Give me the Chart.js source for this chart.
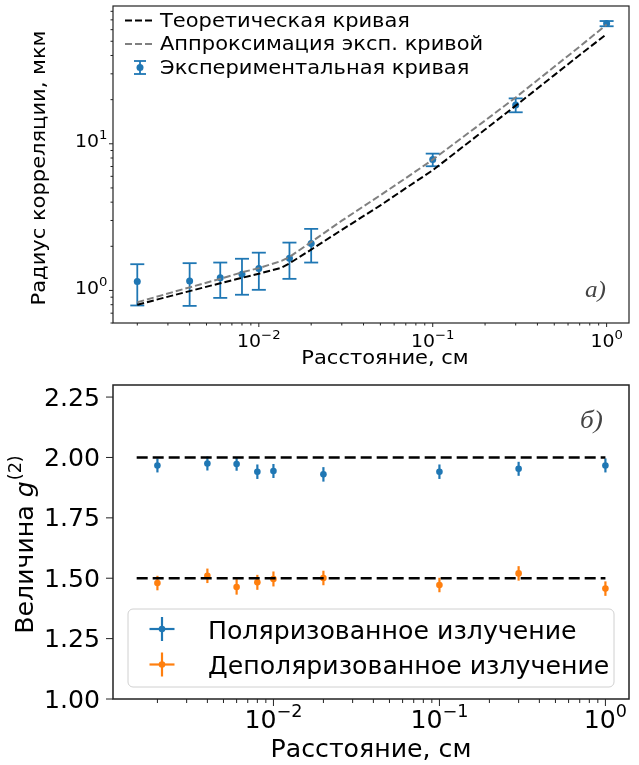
<!DOCTYPE html>
<html>
<head>
<meta charset="utf-8">
<title>Радиус корреляции и g(2)</title>
<script src="https://cdn.jsdelivr.net/npm/chart.js@4.4.1/dist/chart.umd.min.js"></script>
<style>
  body { margin: 0; background: #fff; }
  .panel { position: absolute; left: 0; }
  #top-panel { top: 0; }
  #bottom-panel { top: 370px; }
</style>
</head>
<body>
<canvas id="top-panel" class="panel" width="639" height="370"></canvas>
<canvas id="bottom-panel" class="panel" width="639" height="395"></canvas>
<script>
// --- top panel: correlation radius vs distance (log-log) ---
const expDist = [0.002, 0.004, 0.006, 0.008, 0.01, 0.015, 0.02, 0.1, 0.3, 1.0];
const expRadius = [1.15, 1.16, 1.22, 1.29, 1.41, 1.66, 2.09, 7.8, 18.4, 66];
const expRadiusErr = [0.36, 0.375, 0.33, 0.355, 0.40, 0.46, 0.54, 0.77, 2.0, 2.7];

const curveDist = [0.002, 0.004, 0.006, 0.008, 0.01, 0.0135, 0.015, 0.02, 0.03, 0.05, 0.07, 0.1, 0.2, 0.3, 0.5, 0.7, 1.0];
const theoryRadius = [0.80, 0.99, 1.12, 1.22, 1.30, 1.43, 1.53, 1.90, 2.59, 3.80, 4.98, 6.6, 12.5, 18.2, 29.4, 40.3, 56];
const fitRadius = [0.83, 1.05, 1.20, 1.33, 1.42, 1.59, 1.69, 2.14, 2.99, 4.46, 5.83, 7.8, 14.4, 20.7, 33.5, 46, 65];

// --- bottom panel: g(2) vs distance ---
const g2Dist = [0.002, 0.004, 0.006, 0.008, 0.01, 0.02, 0.1, 0.3, 1.0];
const g2Polarized = [1.967, 1.975, 1.973, 1.941, 1.944, 1.930, 1.941, 1.953, 1.967];
const g2PolarizedErr = [0.029, 0.029, 0.028, 0.030, 0.029, 0.030, 0.030, 0.029, 0.029];
const g2Depolarized = [1.480, 1.510, 1.464, 1.483, 1.497, 1.501, 1.472, 1.520, 1.457];
const g2DepolarizedErr = [0.030, 0.030, 0.032, 0.031, 0.031, 0.030, 0.030, 0.030, 0.030];
const g2LevelDist = [0.0015, 1.0];
const g2PolarizedLevel = [2.0, 2.0];
const g2DepolarizedLevel = [1.5, 1.5];

const g2Ticks = [1.00, 1.25, 1.50, 1.75, 2.00, 2.25];

const BLUE = '#1f77b4';
const ORANGE = '#ff7f0e';
const FONT = '"DejaVu Sans", sans-serif';
const STRETCH = 1.05; // the source figure was scaled a bit wider than tall

const pts = (xs, ys) => xs.map((x, i) => ({ x: x, y: ys[i] }));

// per-chart decoration: ticks, titles, legends, error bars (keyed by canvas id)
const decorConfig = {
    'top-panel': {
        spineWidth: 1.2, majorLen: 4, minorLen: 2.5,
        x: { log: true, font: 18, labelOffset: 24 },
        y: { log: true, font: 18, labelOffset: 5.5, baselineShift: 3.5 },
        xTitle: { text: 'Расстояние, см', x: 385, y: 364, size: 20 },
        yTitle: { text: 'Радиус корреляции, мкм', x: 45, y: 168, size: 20 },
        tag: { text: 'a)', x: 585, y: 297, size: 24 },
        errorBars: [
            { datasetIndex: 2, x: expDist, y: expRadius, err: expRadiusErr, color: BLUE, width: 1.8, cap: 7 }
        ],
        legend: {
            frame: null, handleX: 140, textX: 160, size: 20, handleDy: -6,
            rows: [26.5, 50, 73.5],
            items: [
                { type: 'line', color: '#000', dash: [7, 3], label: 'Теоретическая кривая' },
                { type: 'line', color: 'gray', dash: [7, 3], label: 'Аппроксимация эксп. кривой' },
                { type: 'errcap', color: BLUE, label: 'Экспериментальная кривая' }
            ]
        }
    },
    'bottom-panel': {
        spineWidth: 1.5, majorLen: 7, minorLen: 4,
        x: { log: true, font: 24, labelOffset: 29 },
        y: { log: false, ticks: g2Ticks, font: 24, labelOffset: 13, baselineShift: 8.5 },
        xTitle: { text: 'Расстояние, см', x: 371, y: 387, size: 24 },
        g2Title: { x: 33, y: 175, size: 24 },
        tag: { text: 'б)', x: 580, y: 58, size: 26 },
        errorBars: [
            { datasetIndex: 2, x: g2Dist, y: g2Polarized, err: g2PolarizedErr, color: BLUE, width: 2.2, cap: 0 },
            { datasetIndex: 3, x: g2Dist, y: g2Depolarized, err: g2DepolarizedErr, color: ORANGE, width: 2.2, cap: 0 }
        ],
        legend: {
            frame: { x: 128, y: 239, w: 486, h: 78, r: 5 },
            handleX: 162, textX: 208, size: 24, handleDy: -9.5,
            rows: [268.5, 304],
            items: [
                { type: 'cross', color: BLUE, label: 'Поляризованное излучение' },
                { type: 'cross', color: ORANGE, label: 'Деполяризованное излучение' }
            ]
        }
    }
};

function logTicks(min, max) {
    const out = [];
    for (let e = Math.floor(Math.log10(min)); e <= Math.ceil(Math.log10(max)); e++) {
        for (let m = 1; m < 10; m++) {
            const v = m * Math.pow(10, e);
            if (v >= min && v <= max) out.push({ v: v, major: m === 1, exp: e });
        }
    }
    return out;
}

// text drawn slightly wider than the font's natural width
function textWidth(ctx, text, font) {
    ctx.font = font;
    return ctx.measureText(text).width * STRETCH;
}

function drawText(ctx, text, x, y, font, align) {
    ctx.save();
    ctx.translate(x, y);
    ctx.scale(STRETCH, 1);
    ctx.font = font;
    ctx.textAlign = align || 'left';
    ctx.textBaseline = 'alphabetic';
    ctx.fillText(text, 0, 0);
    ctx.restore();
}

function drawPower(ctx, exp, x, y, size, align) {
    const base = '10';
    const sup = exp < 0 ? '\u2212' + Math.abs(exp) : String(exp);
    const fBase = size + 'px ' + FONT;
    const fSup = (size * 0.7) + 'px ' + FONT;
    const wBase = textWidth(ctx, base, fBase);
    const wSup = textWidth(ctx, sup, fSup);
    const x0 = align === 'right' ? x - wBase - wSup : x - (wBase + wSup) / 2;
    drawText(ctx, base, x0, y, fBase);
    drawText(ctx, sup, x0 + wBase, y - size * 0.45, fSup);
}

function strokeLine(ctx, x1, y1, x2, y2) {
    ctx.beginPath();
    ctx.moveTo(x1, y1);
    ctx.lineTo(x2, y2);
    ctx.stroke();
}

const decorPlugin = {
    id: 'decor',
    beforeDatasetDraw(chart, args) {
        const cfg = decorConfig[chart.canvas.id];
        const ctx = chart.ctx, xs = chart.scales.x, ys = chart.scales.y;
        cfg.errorBars.filter(eb => eb.datasetIndex === args.index).forEach(eb => {
            ctx.save();
            ctx.strokeStyle = eb.color;
            ctx.lineWidth = eb.width;
            eb.x.forEach((xv, i) => {
                const px = xs.getPixelForValue(xv);
                const yLo = ys.getPixelForValue(eb.y[i] - eb.err[i]);
                const yHi = ys.getPixelForValue(eb.y[i] + eb.err[i]);
                strokeLine(ctx, px, yLo, px, yHi);
                if (eb.cap) {
                    strokeLine(ctx, px - eb.cap, yLo, px + eb.cap, yLo);
                    strokeLine(ctx, px - eb.cap, yHi, px + eb.cap, yHi);
                }
            });
            ctx.restore();
        });
    },
    afterDraw(chart) {
        const cfg = decorConfig[chart.canvas.id];
        const ctx = chart.ctx, a = chart.chartArea;
        const xs = chart.scales.x, ys = chart.scales.y;
        ctx.save();
        ctx.fillStyle = '#000';

        // axes box
        ctx.strokeStyle = '#222';
        ctx.lineWidth = cfg.spineWidth;
        ctx.strokeRect(a.left, a.top, a.right - a.left, a.bottom - a.top);

        // x ticks (log)
        ctx.lineWidth = 1;
        logTicks(xs.min, xs.max).forEach(t => {
            const px = xs.getPixelForValue(t.v);
            strokeLine(ctx, px, a.bottom, px, a.bottom + (t.major ? cfg.majorLen : cfg.minorLen));
            if (t.major) drawPower(ctx, t.exp, px, a.bottom + cfg.x.labelOffset, cfg.x.font, 'center');
        });

        // y ticks
        if (cfg.y.log) {
            logTicks(ys.min, ys.max).forEach(t => {
                const py = ys.getPixelForValue(t.v);
                strokeLine(ctx, a.left, py, a.left - (t.major ? cfg.majorLen : cfg.minorLen), py);
                if (t.major) drawPower(ctx, t.exp, a.left - cfg.y.labelOffset, py + cfg.y.baselineShift, cfg.y.font, 'right');
            });
        } else {
            cfg.y.ticks.forEach(v => {
                const py = ys.getPixelForValue(v);
                strokeLine(ctx, a.left, py, a.left - cfg.majorLen, py);
                const label = v.toFixed(2);
                const f = cfg.y.font + 'px ' + FONT;
                drawText(ctx, label, a.left - cfg.y.labelOffset - textWidth(ctx, label, f), py + cfg.y.baselineShift, f);
            });
        }

        // axis titles
        const fx = cfg.xTitle.size + 'px ' + FONT;
        drawText(ctx, cfg.xTitle.text, cfg.xTitle.x - textWidth(ctx, cfg.xTitle.text, fx) / 2, cfg.xTitle.y, fx);
        if (cfg.yTitle) {
            const fy = cfg.yTitle.size + 'px ' + FONT;
            ctx.save();
            ctx.translate(cfg.yTitle.x, cfg.yTitle.y);
            ctx.rotate(-Math.PI / 2);
            drawText(ctx, cfg.yTitle.text, -textWidth(ctx, cfg.yTitle.text, fy) / 2, 0, fy);
            ctx.restore();
        }
        if (cfg.g2Title) {
            const s = cfg.g2Title.size;
            const parts = [
                { t: 'Величина ', f: s + 'px ' + FONT, dy: 0 },
                { t: 'g', f: 'italic ' + s + 'px ' + FONT, dy: 0 },
                { t: '(2)', f: (s * 0.7) + 'px ' + FONT, dy: -s * 0.48 }
            ];
            let total = 0;
            parts.forEach(p => { p.w = textWidth(ctx, p.t, p.f); total += p.w; });
            ctx.save();
            ctx.translate(cfg.g2Title.x, cfg.g2Title.y);
            ctx.rotate(-Math.PI / 2);
            let cx = -total / 2;
            parts.forEach(p => { drawText(ctx, p.t, cx, p.dy, p.f); cx += p.w + (p.t === 'g' ? 1 : 0); });
            ctx.restore();
        }

        // panel tag
        ctx.fillStyle = '#444';
        drawText(ctx, cfg.tag.text, cfg.tag.x, cfg.tag.y, 'italic ' + cfg.tag.size + 'px "Liberation Serif", serif');

        // legend
        const lg = cfg.legend;
        if (lg.frame) {
            const f = lg.frame;
            ctx.beginPath();
            ctx.roundRect(f.x, f.y, f.w, f.h, f.r);
            ctx.fillStyle = 'rgba(255,255,255,0.8)';
            ctx.fill();
            ctx.strokeStyle = '#d0d0d0';
            ctx.lineWidth = 1;
            ctx.stroke();
        }
        lg.items.forEach((it, i) => {
            const base = lg.rows[i];
            const hy = base + lg.handleDy;
            const hx = lg.handleX;
            ctx.strokeStyle = it.color;
            ctx.fillStyle = it.color;
            if (it.type === 'line') {
                ctx.lineWidth = 2;
                ctx.setLineDash(it.dash);
                strokeLine(ctx, hx - 15, hy, hx + 15, hy);
                ctx.setLineDash([]);
            } else if (it.type === 'errcap') {
                ctx.lineWidth = 1.8;
                strokeLine(ctx, hx, hy - 6.5, hx, hy + 6.5);
                strokeLine(ctx, hx - 6, hy - 6.5, hx + 6, hy - 6.5);
                strokeLine(ctx, hx - 6, hy + 6.5, hx + 6, hy + 6.5);
                ctx.beginPath(); ctx.arc(hx, hy, 3.5, 0, Math.PI * 2); ctx.fill();
            } else if (it.type === 'cross') {
                ctx.lineWidth = 2.2;
                strokeLine(ctx, hx - 12.5, hy, hx + 12.5, hy);
                strokeLine(ctx, hx, hy - 12, hx, hy + 12);
                ctx.beginPath(); ctx.arc(hx, hy, 3.3, 0, Math.PI * 2); ctx.fill();
            }
            ctx.fillStyle = '#000';
            drawText(ctx, it.label, lg.textX, base, lg.size + 'px ' + FONT);
        });
        ctx.restore();
    }
};

function hiddenAxis(type, min, max, fit) {
    return {
        type: type, min: min, max: max,
        grid: { display: false }, border: { display: false }, ticks: { display: false },
        afterFit: fit
    };
}

const commonOptions = (padding, xAxis, yAxis) => ({
    responsive: false,
    animation: false,
    events: [],
    layout: { padding: padding },
    scales: { x: xAxis, y: yAxis },
    plugins: { legend: { display: false }, tooltip: { enabled: false } }
});

new Chart(document.getElementById('top-panel'), {
    type: 'scatter',
    data: {
        datasets: [
            { label: 'Теоретическая кривая', data: pts(curveDist, theoryRadius), showLine: true,
              borderColor: '#000', borderWidth: 2, borderDash: [7, 3], pointRadius: 0, tension: 0 },
            { label: 'Аппроксимация эксп. кривой', data: pts(curveDist, fitRadius), showLine: true,
              borderColor: 'gray', borderWidth: 2, borderDash: [7, 3], pointRadius: 0, tension: 0 },
            { label: 'Экспериментальная кривая', data: pts(expDist, expRadius), showLine: false,
              backgroundColor: BLUE, borderWidth: 0, pointRadius: 3.5 }
        ]
    },
    options: commonOptions(
        { top: 6, right: 10, left: 0, bottom: 0 },
        hiddenAxis('logarithmic', 0.00145, 1.345, s => { s.height = 47; }),
        hiddenAxis('logarithmic', 0.627, 87, s => { s.width = 113; })
    ),
    plugins: [decorPlugin]
});

new Chart(document.getElementById('bottom-panel'), {
    type: 'scatter',
    data: {
        datasets: [
            { label: 'g2 = 2', data: pts(g2LevelDist, g2PolarizedLevel), showLine: true,
              borderColor: '#000', borderWidth: 2.5, borderDash: [11, 5], pointRadius: 0 },
            { label: 'g2 = 1.5', data: pts(g2LevelDist, g2DepolarizedLevel), showLine: true,
              borderColor: '#000', borderWidth: 2.5, borderDash: [11, 5], pointRadius: 0 },
            { label: 'Поляризованное излучение', data: pts(g2Dist, g2Polarized), showLine: false,
              backgroundColor: BLUE, borderWidth: 0, pointRadius: 3.3 },
            { label: 'Деполяризованное излучение', data: pts(g2Dist, g2Depolarized), showLine: false,
              backgroundColor: ORANGE, borderWidth: 0, pointRadius: 3.3 }
        ]
    },
    options: commonOptions(
        { top: 15, right: 10, left: 0, bottom: 0 },
        hiddenAxis('logarithmic', 0.00108, 1.387, s => { s.height = 66; }),
        hiddenAxis('linear', 1.0, 2.3, s => { s.width = 113; })
    ),
    plugins: [decorPlugin]
});
</script>
</body>
</html>
